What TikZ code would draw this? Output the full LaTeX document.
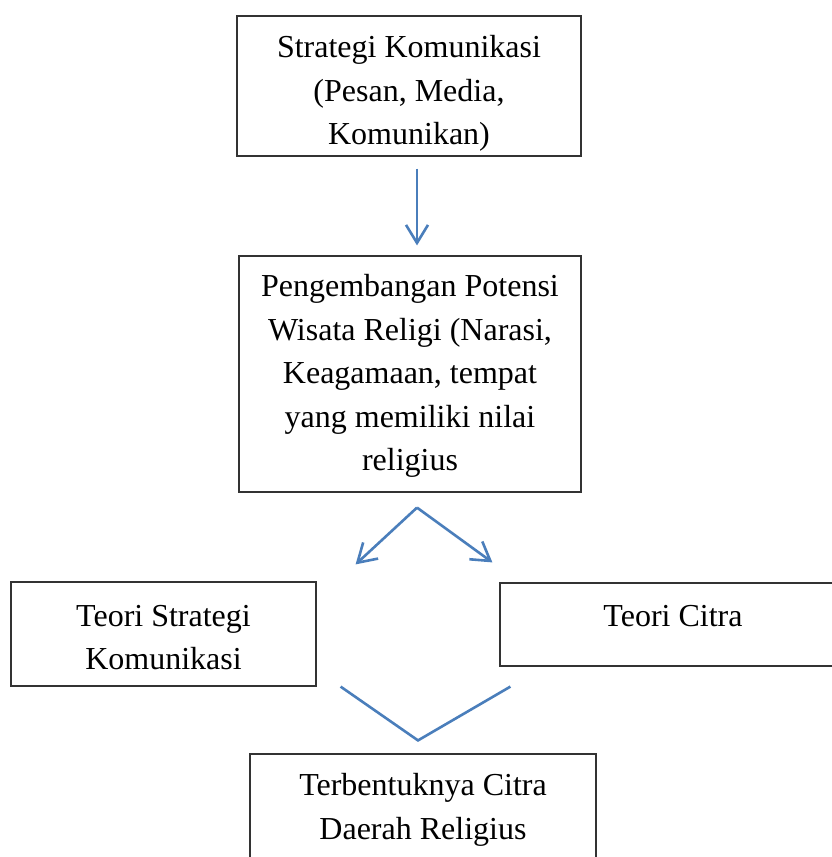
\documentclass[tikz,border=0pt]{standalone}
\usepackage{fontspec}
\setmainfont{Liberation Serif}
\usetikzlibrary{arrows.meta,calc}
\definecolor{arrowblue}{RGB}{74,126,187}
\begin{document}
\begin{tikzpicture}[x=1pt,y=-1pt,
  box/.style={draw=black!80, line width=1.2pt, rectangle, inner sep=0pt},
  txt/.style={align=center, inner sep=0pt, font=\fontsize{32}{43.5}\selectfont},
  conn/.style={draw=arrowblue, line width=2.6pt},
  arr/.style={conn, -{Straight Barb[length=18pt,width=22pt]}}]
\useasboundingbox (0,0) rectangle (832,857);
\clip (0,0) rectangle (832,857);
\node[box, minimum width=344pt, minimum height=140pt] (b1) at (409,86) {};
\node[box, minimum width=342pt, minimum height=236pt] (b2) at (410,374) {};
\node[box, minimum width=305pt, minimum height=104pt] (b3) at (163.5,634) {};
\node[box, minimum width=345pt, minimum height=83pt] (b4) at (672.5,624.5) {};
\node[box, minimum width=346pt, minimum height=116pt] (b5) at (423,812) {};
\node[txt] (t1) at (409,93.5) {Strategi Komunikasi\\(Pesan, Media,\\Komunikan)};
\node[txt] (t2) at (410,376) {Pengembangan Potensi\\Wisata Religi (Narasi,\\Keagamaan, tempat\\yang memiliki nilai\\religius};
\node[txt] (t3) at (163.5,637.5) {Teori Strategi\\Komunikasi};
\node[txt] (t4) at (673,616) {Teori Citra};
\node[txt] (t5) at (423,810) {Terbentuknya Citra\\Daerah Religius};
\coordinate (s1) at ($(b1.south)+(8,12)$);
\coordinate (e1) at ($(b2.north)+(7,-10)$);
\draw[arr] (s1) -- (e1);
\coordinate (s2) at ($(b2.south)+(7,15)$);
\coordinate (e2l) at ($(b3.north east)+(39,-17)$);
\coordinate (e2r) at ($(b4.north west)+(-7,-20)$);
\draw[arr] (s2) -- (e2l);
\draw[arr] (s2) -- (e2r);
\coordinate (v1) at ($(b3.south east)+(24,0)$);
\coordinate (v2) at ($(b5.north)+(-5,-13)$);
\coordinate (v3) at ($(b4.south west)+(11,20)$);
\draw[conn] (v1) -- (v2) -- (v3);
\end{tikzpicture}
\end{document}
